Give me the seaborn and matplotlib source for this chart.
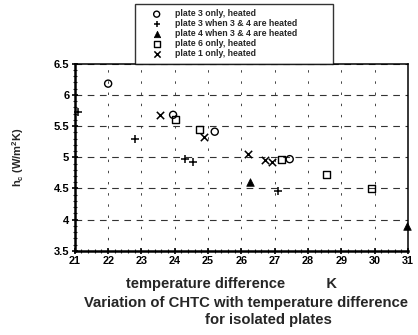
import matplotlib
matplotlib.use("Agg")
import matplotlib.pyplot as plt
import seaborn as sns
import pandas as pd
from matplotlib.ticker import MultipleLocator

# ---- data ----
p3_only_x = [22.0, 23.95, 25.2, 27.45]
p3_only_y = [6.18, 5.68, 5.41, 4.97]

p3_both_x = [21.1, 22.8, 24.3, 24.55, 27.1]
p3_both_y = [5.72, 5.29, 4.98, 4.92, 4.46]

p4_both_x = [26.25, 30.96]
p4_both_y = [4.60, 3.90]

p6_only_x = [24.02, 24.75, 27.2, 28.55, 29.9]
p6_only_y = [5.60, 5.44, 4.96, 4.72, 4.50]

p1_only_x = [23.55, 24.87, 26.2, 26.7, 26.93]
p1_only_y = [5.68, 5.33, 5.05, 4.96, 4.92]

series_labels = ["plate 3 only, heated",
                 "plate 3 when 3 & 4 are heated",
                 "plate 4 when 3 & 4 are heated",
                 "plate 6 only, heated",
                 "plate 1 only, heated"]

x_ticks = [21, 22, 23, 24, 25, 26, 27, 28, 29, 30, 31]
y_ticks = [3.5, 4, 4.5, 5, 5.5, 6, 6.5]
y_tick_labels = ["3.5", "4", "4.5", "5", "5.5", "6", "6.5"]

x_label = "temperature difference          K"
y_label = "h$_\\mathbf{c}$ (W/m$^\\mathbf{2}$K)"
title_1 = "Variation of CHTC with temperature difference"
title_2 = "for isolated plates"

# ---- styling ----
sns.set_style("ticks")
plt.rcParams['font.family'] = ['Liberation Sans', 'DejaVu Sans']
plt.rcParams['mathtext.fontset'] = 'custom'
plt.rcParams['mathtext.rm'] = 'Liberation Sans:bold'
plt.rcParams['mathtext.bf'] = 'Liberation Sans:bold'
plt.rcParams['mathtext.it'] = 'Liberation Sans:bold'

fig = plt.figure(figsize=(4.18, 3.35), dpi=100)
ax = fig.add_axes([0.179, 0.251, 0.797, 0.559])

data = [
    (p3_only_x, p3_only_y, series_labels[0], 'o', True),
    (p3_both_x, p3_both_y, series_labels[1], '+', False),
    (p4_both_x, p4_both_y, series_labels[2], '^', False),
    (p6_only_x, p6_only_y, series_labels[3], 's', True),
    (p1_only_x, p1_only_y, series_labels[4], 'x', False),
]

for xs, ys, lab, mk, hollow in data:
    df = pd.DataFrame({"x": xs, "y": ys})
    if hollow:
        sns.scatterplot(data=df, x="x", y="y", ax=ax, marker=mk, s=26,
                        facecolors='none', edgecolor='black', linewidth=1.0,
                        label=lab, zorder=3, clip_on=False)
    elif mk == '^':
        sns.scatterplot(data=df, x="x", y="y", ax=ax, marker=mk, s=30,
                        color='black', edgecolor='black', linewidth=0.5,
                        label=lab, zorder=3, clip_on=False)
    else:
        sns.scatterplot(data=df, x="x", y="y", ax=ax, marker=mk, s=28,
                        color='black', linewidth=1.1, label=lab, zorder=3,
                        clip_on=False)

ax.set_xlim(21, 31)
ax.set_ylim(3.5, 6.5)
ax.set_xticks(x_ticks)
ax.set_xticklabels([str(t) for t in x_ticks])
ax.set_yticks(y_ticks)
ax.set_yticklabels(y_tick_labels)
ax.xaxis.set_minor_locator(MultipleLocator(0.2))
ax.yaxis.set_minor_locator(MultipleLocator(0.1))
ax.tick_params(axis='both', which='major', direction='inout', length=5,
               width=1.2, pad=1.5, colors='black')
ax.tick_params(axis='x', which='major', labelsize=7.8)
ax.tick_params(axis='y', which='major', labelsize=8.0)
ax.tick_params(axis='both', which='minor', direction='inout', length=3,
               width=0.8)
for lbl in ax.get_xticklabels() + ax.get_yticklabels():
    lbl.set_fontweight('bold')

ax.yaxis.grid(True, which='major', linestyle=(0, (6, 5)), color='#333333',
              linewidth=0.8)
ax.xaxis.grid(True, which='major', linestyle=(0, (2.5, 9)), color='#444444',
              linewidth=0.7)

for side in ['left', 'bottom']:
    ax.spines[side].set_linewidth(1.8)
for side in ['top', 'right']:
    ax.spines[side].set_visible(True)
    ax.spines[side].set_linewidth(1.1)
for sp in ax.spines.values():
    sp.set_color('black')

ax.set_xlabel(x_label, fontsize=10.5, fontweight='bold')
ax.xaxis.set_label_coords(0.47, -0.138)
ax.set_ylabel(y_label, fontsize=8.0, fontweight='bold')
ax.yaxis.set_label_coords(-0.147, 0.5)

fig.text(0.589, 0.095, title_1, fontsize=10.7, fontweight='bold',
         ha='center', va='center')
fig.text(0.641, 0.045, title_2, fontsize=10.7, fontweight='bold',
         ha='center', va='center')

leg = ax.legend(loc='lower left', bbox_to_anchor=(0.18, 1.0, 0.595, 0.315),
                mode='expand', fontsize=6.3, frameon=True, fancybox=False,
                edgecolor='black', borderpad=0.65, labelspacing=0.1,
                handlelength=3.7, handletextpad=0.2, borderaxespad=0,
                markerscale=0.85)
leg.get_frame().set_linewidth(1.0)
for t in leg.get_texts():
    t.set_fontweight('bold')

fig.savefig("out.png", dpi=100)
